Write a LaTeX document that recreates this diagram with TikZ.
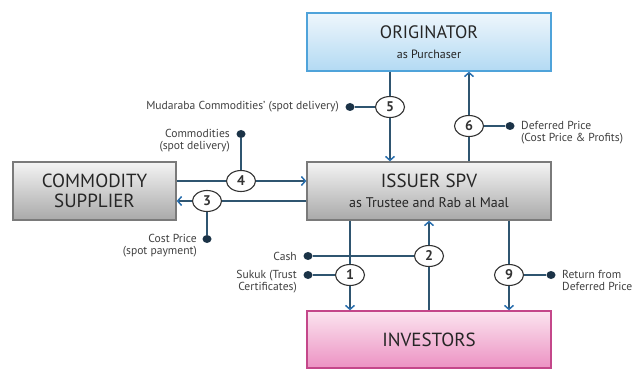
\documentclass[tikz,border=0pt]{standalone}
\usepackage{fontspec}
\setmainfont{PT Sans}
\usepackage{tikz}
\usetikzlibrary{arrows.meta,shapes.geometric,calc}

\definecolor{linkcol}{HTML}{2F5570}
\definecolor{tipcol}{HTML}{2A6FAE}
\definecolor{dotcol}{HTML}{1B3347}
\definecolor{origline}{HTML}{4FA3DA}
\definecolor{origtop}{HTML}{EEF6FC}
\definecolor{origbot}{HTML}{B3DAF3}
\definecolor{greyline}{HTML}{7A7A7A}
\definecolor{greytop}{HTML}{F4F4F4}
\definecolor{greybot}{HTML}{A9A9A9}
\definecolor{pinkline}{HTML}{C4478A}
\definecolor{pinktop}{HTML}{FBE4EF}
\definecolor{pinkbot}{HTML}{EC92C3}

\tikzset{
  box/.style={rectangle, draw, line width=1.3pt, minimum width=244pt, minimum height=58pt, align=center, inner sep=0pt, text=black!85},
  bluebox/.style={box, draw=origline, top color=origtop, bottom color=origbot},
  greybox/.style={box, draw=greyline, top color=greytop, bottom color=greybot},
  pinkbox/.style={box, draw=pinkline, top color=pinktop, bottom color=pinkbot},
  stepno/.style={ellipse, draw=black!80, line width=1.1pt, fill=white, minimum width=29pt, minimum height=21pt, inner sep=0pt, font=\fontsize{14}{14}\selectfont\bfseries, text=black!80},
  dot/.style={ellipse, fill=dotcol, minimum width=9pt, minimum height=8pt, inner sep=0pt},
  link/.style={draw=linkcol, line width=1.1pt},
  flow/.style={link, -{Straight Barb[length=4pt,width=9pt,line width=1.5pt,color=tipcol]}},
  note/.style={font=\fontsize{11.6}{12.5}\selectfont, text=black!75, inner sep=0pt},
  title/.style={font=\fontsize{19}{20}\selectfont}
}

\begin{document}
\begin{tikzpicture}[x=1pt,y=-1pt]
\useasboundingbox (0,0) rectangle (633,369);

\node[bluebox, font=\fontsize{12}{20}\selectfont] (orig) at (429,42) {{\fontsize{18}{20}\selectfont ORIGINATOR}\\{as Purchaser}};
\node[greybox, font=\fontsize{14}{20}\selectfont] (issuer) at (429,191) {{\fontsize{19}{20}\selectfont ISSUER SPV}\\{as Trustee and Rab al Maal}};
\node[greybox, title, minimum width=163pt] (supplier) at (94.5,191) {COMMODITY\\SUPPLIER};
\node[pinkbox, title, minimum height=57pt] (investors) at (429,339.5) {INVESTORS};

\node[stepno] (c5) at (390,107) {5};
\node[stepno] (c6) at (469,126) {6};
\node[stepno] (c4) at (241,181) {4};
\node[stepno] (c3) at (207,201) {3};
\node[stepno] (c2) at (429,256) {2};
\node[stepno] (c1) at (350,275) {1};
\node[stepno] (c9) at (509,275) {9};

\node[dot] (d5) at (350,107) {};
\node[dot] (d6) at (510,126) {};
\node[dot] (d4) at (241,134) {};
\node[dot] (d3) at (207,239) {};
\node[dot] (d2) at (308,256) {};
\node[dot] (d1) at (308,275) {};
\node[dot] (d9) at (551,275) {};

\draw[link] (orig.south -| c5) -- (c5);
\draw[flow] (c5) -- (issuer.north -| c5);
\draw[link] (issuer.north -| c6) -- (c6);
\draw[flow] (c6) -- (orig.south -| c6);
\draw[link] (supplier.east |- c4) -- (c4);
\draw[flow] (c4) -- (issuer.west |- c4);
\draw[link] (issuer.west |- c3) -- (c3);
\draw[flow] (c3) -- (supplier.east |- c3);
\draw[link] (issuer.south -| c1) -- (c1);
\draw[flow] (c1) -- (investors.north -| c1);
\draw[link] (investors.north -| c2) -- (c2);
\draw[flow] (c2) -- (issuer.south -| c2);
\draw[link] (issuer.south -| c9) -- (c9);
\draw[flow] (c9) -- (investors.north -| c9);

\draw[link] (c5) -- (d5);
\draw[link] (c6) -- (d6);
\draw[link] (c4) -- (d4);
\draw[link] (c3) -- (d3);
\draw[link] (c2) -- (d2);
\draw[link] (c1) -- (d1);
\draw[link] (c9) -- (d9);

\node[note, anchor=east] (l5) at (339,107) {Mudaraba Commodities' (spot delivery)};
\node[note, anchor=north west, align=left] (l6) at (521,121) {Deferred Price\\(Cost Price \& Profits)};
\node[note, anchor=north east, align=right] (l4) at (230,129) {Commodities\\(spot delivery)};
\node[note, anchor=north east, align=right] (l3) at (197,234) {Cost Price\\(spot payment)};
\node[note, anchor=east] (l2) at (297,256) {Cash};
\node[note, anchor=north east, align=right] (l1) at (297,270) {Sukuk (Trust\\Certificates)};
\node[note, anchor=north west, align=left] (l9) at (562,270) {Return from\\Deferred Price};
\end{tikzpicture}
\end{document}
